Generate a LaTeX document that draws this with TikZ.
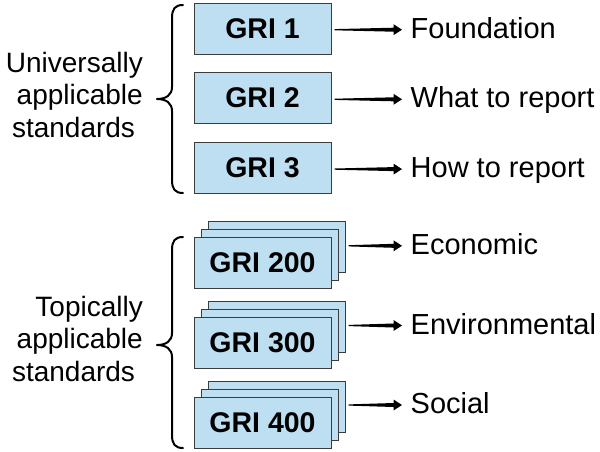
\documentclass[tikz,border=0pt]{standalone}
\usepackage{fontspec}
\setmainfont{Liberation Sans}
\usetikzlibrary{calc}
\definecolor{boxfill}{RGB}{190,222,241}
\definecolor{boxline}{RGB}{60,60,60}
\tikzset{
  backbox/.style={draw=boxline, fill=boxfill, line width=1pt, minimum width=137pt, minimum height=51pt, inner sep=0pt},
  grbox/.style={backbox, font=\fontsize{28.5}{30}\selectfont\bfseries},
  outlbl/.style={anchor=base west, inner sep=0pt, font=\fontsize{29}{31}\selectfont},
  grplbl/.style={anchor=north east, inner sep=0pt, align=right, font=\fontsize{28}{32.5}\selectfont},
  bracepath/.style={line width=2pt, line cap=round, line join=round},
}
\newcommand\taperarrow[2]{%
  \fill let \p1=(#1), \p2=(#2) in
    (\x1,\y1+0.6pt) -- (\x2-8.5pt,\y2+2pt) -- (\x2-8.5pt,\y2+5.5pt) -- (\x2,\y2)
    -- (\x2-8.5pt,\y2-5.5pt) -- (\x2-8.5pt,\y2-2pt) -- (\x1,\y1-0.6pt) -- cycle;}
\begin{document}
\begin{tikzpicture}[x=1pt,y=-1pt]
\useasboundingbox (0,0) rectangle (600,451);

% universal standards
\node[grbox] (g1) at (262.5,28.5) {GRI 1};
\node[grbox] (g2) at (262.5,98) {GRI 2};
\node[grbox] (g3) at (262.5,167.5) {GRI 3};

% topical standards (stacks)
\node[backbox] (g200c) at (276.5,246.5) {};
\node[backbox] (g200b) at (269.5,254.5) {};
\node[grbox] (g200) at (262.5,262.5) {GRI 200};
\node[backbox] (g300c) at (276.5,326.5) {};
\node[backbox] (g300b) at (269.5,334.5) {};
\node[grbox] (g300) at (262.5,342.5) {GRI 300};
\node[backbox] (g400c) at (276.5,406.5) {};
\node[backbox] (g400b) at (269.5,414.5) {};
\node[grbox] (g400) at (262.5,422.5) {GRI 400};

% right labels
\node[outlbl] (l1) at (410.5,38.2) {Foundation};
\node[outlbl] (l2) at (410.5,107.8) {What to report};
\node[outlbl] (l3) at (410.5,177.6) {How to report};
\node[outlbl] (l4) at (410.5,254.3) {Economic};
\node[outlbl] (l5) at (410.5,334) {Environmental};
\node[outlbl] (l6) at (410.5,413.5) {Social};

% arrows
\foreach \b/\l in {g1/l1, g2/l2, g3/l3, g200c/l4, g300c/l5, g400c/l6}{
  \coordinate (\l e) at ($(\l.base west)+(-8.5,-8.5)$);
  \coordinate (\l s) at ($(\b.east |- \l e)+(3,0)$);
  \taperarrow{\l s}{\l e}
}

% left group labels
\node[grplbl] (ul) at (143,52) {Universally\\applicable\hspace*{0.278em}\\standards\hspace*{0.278em}};
\node[grplbl] (tl) at (143,296) {Topically\\applicable\hspace*{0.278em}\\standards\hspace*{0.278em}};

% braces
\draw[bracepath] (183,5) .. controls (175,5) and (172,9) .. (172,18) -- (172,87)
  .. controls (172,95) and (166,99) .. (157,99)
  .. controls (166,99) and (172,103) .. (172,111) -- (172,180)
  .. controls (172,189) and (175,193) .. (183,193);
\draw[bracepath] (183,237) .. controls (175,237) and (172,241) .. (172,250) -- (172,333)
  .. controls (172,341) and (166,345) .. (157,345)
  .. controls (166,345) and (172,349) .. (172,357) -- (172,435)
  .. controls (172,444) and (175,448) .. (183,448);
\end{tikzpicture}
\end{document}
